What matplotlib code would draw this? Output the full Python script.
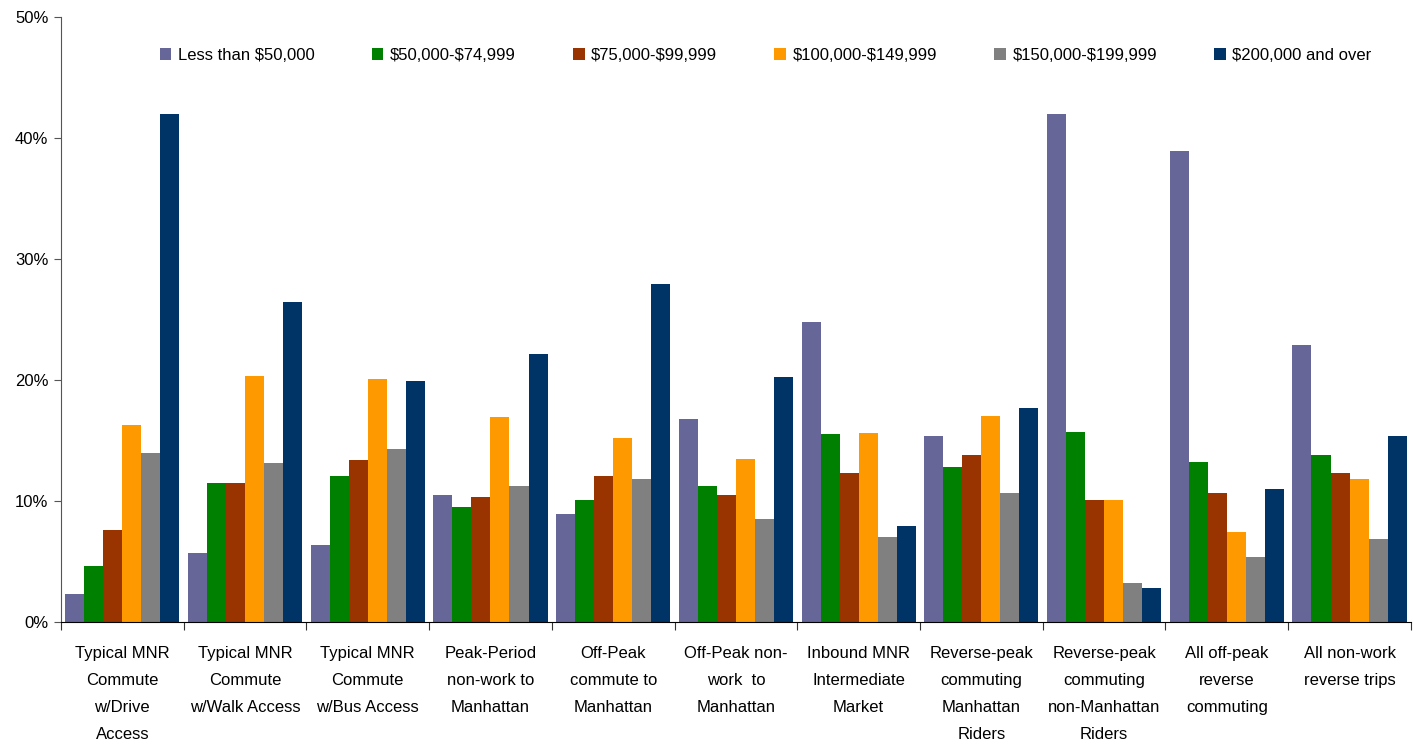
import matplotlib.pyplot as plt
import numpy as np

plt.rcParams['font.family'] = ['Liberation Sans', 'DejaVu Sans']

# market segments (x-axis categories)
categories = [
    "Typical MNR\nCommute\nw/Drive\nAccess",
    "Typical MNR\nCommute\nw/Walk Access",
    "Typical MNR\nCommute\nw/Bus Access",
    "Peak-Period\nnon-work to\nManhattan",
    "Off-Peak\ncommute to\nManhattan",
    "Off-Peak non-\nwork  to\nManhattan",
    "Inbound MNR\nIntermediate\nMarket",
    "Reverse-peak\ncommuting\nManhattan\nRiders",
    "Reverse-peak\ncommuting\nnon-Manhattan\nRiders",
    "All off-peak\nreverse\ncommuting",
    "All non-work\nreverse trips",
]

# income groups (legend); \$ keeps mathtext off
income_groups = [r"Less than \$50,000", r"\$50,000-\$74,999", r"\$75,000-\$99,999",
                 r"\$100,000-\$149,999", r"\$150,000-\$199,999", r"\$200,000 and over"]

# share of riders in percent, one list per income group
less_50k = [2.3, 5.7, 6.4, 10.5, 8.9, 16.8, 24.8, 15.4, 42.0, 38.9, 22.9]
k50_75 = [4.6, 11.5, 12.1, 9.5, 10.1, 11.2, 15.5, 12.8, 15.7, 13.2, 13.8]
k75_100 = [7.6, 11.5, 13.4, 10.3, 12.1, 10.5, 12.3, 13.8, 10.1, 10.7, 12.3]
k100_150 = [16.3, 20.3, 20.1, 16.9, 15.2, 13.5, 15.6, 17.0, 10.1, 7.4, 11.8]
k150_200 = [14.0, 13.1, 14.3, 11.2, 11.8, 8.5, 7.0, 10.7, 3.2, 5.4, 6.9]
k200_plus = [42.0, 26.4, 19.9, 22.1, 27.9, 20.2, 7.9, 17.7, 2.8, 11.0, 15.4]

series = [less_50k, k50_75, k75_100, k100_150, k150_200, k200_plus]
colors = ["#666699", "#008000", "#993300", "#FF9900", "#808080", "#003366"]

fig = plt.figure(figsize=(14.14, 7.45), dpi=100)
ax = fig.add_axes([0.0431, 0.165, 0.9547, 0.8126])

x = np.arange(len(categories))
bar_w = 0.155
for i, (vals, col, name) in enumerate(zip(series, colors, income_groups)):
    ax.bar(x + (i - 2.5) * bar_w, vals, width=bar_w, color=col, label=name, linewidth=0)

ax.set_xlim(-0.5, len(categories) - 0.5)
ax.set_ylim(0, 50)
ax.set_yticks(np.arange(0, 51, 10))
ax.set_yticklabels([f"{v}%" for v in range(0, 51, 10)], fontsize=12)

# boundary ticks between groups, labels at the centers
ax.set_xticks(np.arange(-0.5, len(categories), 1.0))
ax.set_xticklabels([])
ax.set_xticks(x, minor=True)
ax.set_xticklabels(categories, minor=True, fontsize=12, linespacing=2.0, va='top')
ax.tick_params(axis='x', which='minor', length=0, pad=17)
ax.tick_params(axis='x', which='major', length=6, direction='out', color='#333333')
ax.tick_params(axis='y', length=5, direction='out', color='#555555', pad=4)

ax.spines['top'].set_visible(False)
ax.spines['right'].set_visible(False)
ax.spines['left'].set_color('#555555')
ax.spines['bottom'].set_color('black')

fig.legend(loc='center', bbox_to_anchor=(0.5415, 0.926), ncol=6, frameon=False,
           fontsize=12, handlelength=0.7, handleheight=0.7, handletextpad=0.4,
           columnspacing=3.42)

fig.savefig("out.png", dpi=100)
